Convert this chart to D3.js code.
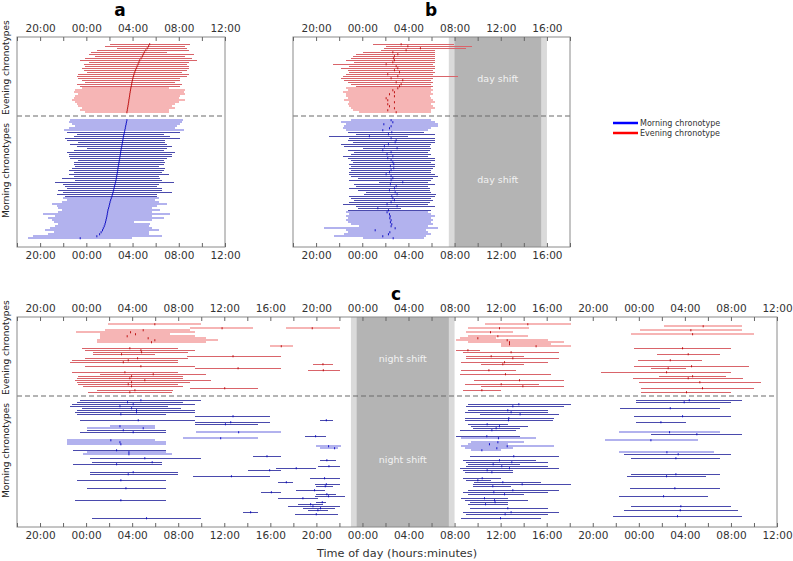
<!DOCTYPE html>
<html>
<head>
<meta charset="utf-8">
<script src="https://cdn.jsdelivr.net/npm/d3@7"></script>
<style>
  body{margin:0;background:#fff}
  svg{display:block}
  text{font-family:"DejaVu Sans",Verdana,sans-serif}
</style>
</head>
<body>
<svg id="chart" width="793" height="561"></svg>
<script>
// times are hours after midnight of the first day (26.5 = 02:30 next day)
// a, b: [sleep onset, wake, midsleep, pale]
const aEvening = [
  [26.07,33.01,29.48,0],[25.64,32.57,29.38,0],[26.65,32.72,29.27,0],[24.91,32.86,29.15,0],
  [24.42,30.98,29.02,0],[24.19,33.29,28.93,0],[24.77,32.57,28.85,0],[23.90,33.15,28.74,0],
  [23.47,33.58,28.62,0],[24.19,32.86,28.55,0],[23.76,32.72,28.48,0],[23.90,32.86,28.40,0],
  [23.61,32.86,28.33,0],[23.76,32.72,28.25,0],[24.05,32.28,28.19,0],[23.32,32.86,28.13,0],
  [23.18,32.72,28.08,0],[23.32,32.14,28.03,0],[23.61,32.14,27.99,0],[23.90,31.71,27.95,0],
  [23.18,32.28,27.92,0],[23.47,32.14,27.89,0],[23.61,31.13,27.85,1],[23.03,32.57,27.82,1],
  [22.89,32.43,27.79,1],[23.32,32.57,27.76,1],[23.03,32.14,27.74,1],[22.89,31.99,27.71,1],
  [22.75,32.57,27.68,1],[23.03,31.99,27.66,1],[23.18,31.71,27.63,1],[23.32,31.42,27.60,1],
  [23.61,31.71,27.57,1],[23.47,31.13,27.54,1],[23.90,31.13,27.51,1]
]
const aMorning = [
  [22.60,32.37,27.51,1],[22.46,32.28,27.47,1],[22.75,32.14,27.44,1],[23.03,31.85,27.40,1],
  [22.46,31.71,27.37,1],[22.11,32.43,27.33,1],[22.31,32.14,27.30,0],[23.18,30.69,27.26,0],
  [22.89,31.27,27.22,0],[22.17,32.14,27.19,0],[22.31,30.84,27.16,0],[23.32,30.84,27.13,0],
  [22.60,30.98,27.10,0],[23.18,31.42,27.07,0],[24.05,30.98,27.03,0],[22.89,30.69,27.00,0],
  [22.31,31.71,26.97,0],[22.46,31.42,26.95,0],[22.46,31.42,26.92,0],[22.60,30.98,26.89,0],
  [23.32,30.69,26.86,0],[22.89,30.84,26.83,0],[22.89,30.69,26.80,0],[23.03,30.26,26.77,0],
  [22.75,30.84,26.74,0],[22.46,30.69,26.72,0],[22.89,30.55,26.69,0],[22.46,31.13,26.66,0],
  [22.89,30.26,26.63,0],[21.88,30.40,26.60,0],[23.03,30.55,26.57,0],[21.30,31.56,26.53,0],
  [22.02,30.26,26.49,0],[22.17,30.12,26.44,0],[22.31,30.55,26.40,0],[21.59,30.55,26.36,0],
  [22.02,31.42,26.32,0],[21.45,30.12,26.27,0],[22.17,30.12,26.22,0],[22.02,30.26,26.16,1],
  [22.31,29.97,26.10,1],[21.88,30.26,26.05,1],[21.01,30.98,26.01,1],[21.45,30.12,25.97,1],
  [21.59,29.68,25.92,1],[21.88,30.40,25.87,1],[21.59,29.68,25.84,1],[20.29,31.27,25.81,1],
  [21.30,29.68,25.78,1],[20.72,30.69,25.74,1],[21.01,29.68,25.70,1],[21.16,28.09,25.66,1],
  [21.59,29.54,25.61,1],[21.30,29.39,25.55,1],[20.87,29.68,25.47,1],[20.43,30.26,25.40,1],
  [21.16,29.39,25.28,1],[20.72,29.39,25.15,1],[19.42,30.55,24.91,1],[18.99,27.95,23.47,1]
]
const bEvening = [
  [24.91,31.99,27.37,0],[26.07,33.53,27.95,0],[25.92,33.01,29.04,0],[25.64,30.26,27.80,0],
  [24.05,30.26,26.65,0],[23.47,30.26,27.08,0],[23.18,30.26,26.79,0],[23.03,30.26,26.70,0],
  [22.60,30.26,26.79,0],[23.32,30.26,26.65,0],[21.45,30.12,26.07,0],[22.89,30.26,26.94,0],
  [22.17,30.26,27.08,0],[22.75,30.12,26.79,0],[22.89,30.26,27.23,0],[22.60,30.12,26.21,0],
  [22.31,32.28,27.08,0],[22.17,30.12,26.50,0],[22.46,29.97,27.51,0],[22.75,30.12,26.94,0],
  [23.03,29.97,27.37,0],[23.47,30.12,27.23,0],[22.60,29.97,27.08,1],[22.75,30.12,26.65,1],
  [22.31,29.97,26.79,1],[22.60,30.12,26.36,1],[22.60,29.83,26.79,1],[22.75,29.97,26.07,1],
  [22.46,30.12,26.21,1],[22.89,30.26,26.79,1],[22.75,29.97,26.21,1],[22.89,30.12,26.36,1],
  [23.03,30.26,26.79,1],[23.18,29.97,26.21,1],[23.76,29.97,26.94,1]
]
const bMorning = [
  [23.03,29.97,26.50,1],[22.17,30.26,26.65,1],[22.60,30.55,25.87,1],[22.46,30.55,26.50,1],
  [22.31,29.97,26.36,1],[22.60,29.68,25.78,1],[22.75,29.39,26.56,0],[23.47,30.26,26.27,0],
  [21.16,27.95,24.62,0],[22.89,30.26,26.50,0],[22.75,30.26,26.94,0],[23.18,30.26,26.85,0],
  [22.17,29.97,26.27,0],[22.46,29.83,25.92,0],[24.05,29.97,27.02,0],[22.75,29.83,25.78,0],
  [23.32,29.68,26.50,0],[23.03,29.97,26.15,0],[22.31,29.68,26.65,0],[22.75,30.26,26.21,0],
  [23.03,30.26,26.50,0],[23.18,29.97,26.65,0],[22.89,30.26,26.73,0],[23.03,30.26,26.44,0],
  [22.89,30.12,26.73,0],[23.03,29.97,26.50,0],[22.89,29.97,26.36,0],[22.89,30.26,26.07,0],
  [23.03,30.55,26.50,0],[23.61,30.12,26.65,0],[22.89,29.97,26.50,0],[25.49,29.68,27.51,0],
  [23.32,30.26,26.44,0],[23.47,29.68,26.94,0],[22.89,29.83,26.79,0],[23.61,29.83,26.36,0],
  [24.34,29.97,26.85,0],[24.19,30.40,27.02,0],[22.89,30.26,26.56,0],[23.03,29.97,26.65,0],
  [23.32,30.12,26.79,0],[22.89,29.83,26.50,0],[22.31,29.68,26.15,0],[23.47,30.26,27.02,0],
  [23.61,27.37,25.35,0],[22.75,29.97,26.27,0],[22.60,29.68,26.15,1],[22.89,29.97,26.36,1],
  [22.60,30.26,26.42,1],[22.75,29.97,26.39,1],[22.60,30.12,26.50,1],[22.75,29.97,26.44,1],
  [23.03,30.12,26.56,1],[23.76,29.68,26.50,1],[20.72,30.55,26.85,1],[22.60,29.54,25.12,1],
  [22.75,29.68,26.39,1],[22.46,29.97,26.27,1],[21.59,29.54,25.78,1],[24.05,29.39,26.68,1]
]
// c: [row, sleep onset, wake, midsleep, pale]
const cEvening = [
  [0,25.90,33.96,29.97,1],[0,58.60,66.12,62.36,1],[1,74.15,81.00,77.59,1],
  [2,33.01,38.50,35.81,1],[2,41.39,46.01,43.64,1],[2,57.16,62.50,59.90,1],
  [3,25.64,33.01,28.96,1],[3,72.13,81.00,76.52,1],[4,23.12,33.44,27.86,1],[4,57.01,61.06,59.12,1],
  [5,25.20,31.27,28.29,1],[5,71.32,82.01,76.67,1],[6,25.20,33.44,27.57,1],[6,57.16,62.36,59.76,1],
  [7,25.20,34.45,29.39,1],[7,56.43,59.61,58.02,1],[8,24.91,35.46,29.97,1],[8,56.14,64.09,60.57,1],
  [9,24.91,34.45,29.68,1],[9,57.16,65.54,60.77,1],[10,60.05,64.38,60.77,1],[11,39.94,41.97,40.95,1],
  [11,60.05,66.12,63.08,1],[12,23.61,31.99,27.80,0],[12,71.61,79.99,75.80,0],
  [13,23.90,33.44,28.76,0],[13,56.14,58.17,57.16,0],[14,24.62,32.86,28.82,0],[14,56.72,65.10,60.91,0],
  [15,24.62,29.97,27.08,0],[15,73.57,79.06,76.29,0],[16,32.72,40.95,36.76,0],[16,57.01,62.07,59.18,0],
  [17,23.90,32.86,28.47,0],[17,57.01,65.10,61.06,0],[18,22.75,31.99,27.66,0],[18,71.90,77.53,74.73,0],
  [19,22.60,31.99,27.23,0],[19,56.58,64.09,60.34,0],[20,43.70,45.43,44.57,0],[20,58.31,62.07,60.19,0],
  [21,23.90,33.44,28.76,0],[21,71.61,81.58,76.58,0],[22,33.44,40.95,37.20,0],[22,73.05,76.09,74.55,0],
  [23,43.27,46.01,44.60,0],[23,56.58,61.35,58.98,0],[24,22.75,31.99,27.37,0],[24,68.72,79.99,74.41,0],
  [25,25.20,34.45,29.83,0],[25,56.43,64.38,60.42,0],[26,23.32,32.43,27.95,0],[26,73.77,79.56,76.67,0],
  [27,23.18,32.43,27.80,0],[27,71.46,81.09,76.29,0],[28,23.03,34.88,29.10,0],[28,57.73,65.54,61.64,0],
  [29,23.18,33.01,27.95,0],[29,72.04,82.59,77.30,0],[30,23.32,31.99,27.66,0],[30,56.87,63.37,60.05,0],
  [31,23.76,32.43,27.95,0],[31,58.31,65.54,61.93,0],[32,33.01,38.93,36.04,0],[32,72.19,82.01,77.53,0],
  [33,24.91,31.56,28.24,0],[33,56.72,60.05,58.37,0],[34,24.19,31.42,27.80,0],[34,72.19,79.99,76.14,0]
]
const cMorning = [
  [38,23.47,34.02,28.76,0],[38,71.75,81.00,76.38,0],[39,23.18,32.43,27.60,0],[39,71.75,79.99,75.94,0],
  [40,22.75,33.44,28.09,0],[40,57.16,66.12,61.58,0],[41,22.60,31.13,26.94,0],[41,57.01,65.54,61.06,0],
  [42,23.61,32.28,27.95,0],[42,70.39,79.06,74.73,0],[43,23.18,33.44,28.38,0],[43,57.16,64.09,60.62,0],
  [44,23.03,33.44,28.38,0],[44,56.87,64.09,60.91,0],[45,23.18,30.98,27.02,0],[45,58.25,65.10,61.69,0],
  [46,33.44,39.94,36.76,0],[46,71.61,79.99,75.80,0],[47,56.87,64.67,60.71,0],
  [48,23.47,33.44,28.53,0],[48,44.28,45.43,44.86,0],[48,56.87,64.53,60.68,0],
  [49,33.44,39.94,36.56,0],[49,71.75,76.09,73.92,0],[50,33.44,38.93,36.10,0],[50,57.16,60.62,58.83,0],
  [51,26.07,29.97,26.94,1],[51,57.45,62.36,59.90,0],[52,24.05,29.97,28.96,1],[52,57.59,61.64,59.61,0],
  [53,24.05,30.98,27.23,0],[53,56.43,61.35,59.24,0],[54,23.47,30.98,28.09,0],[54,33.58,40.95,37.25,1],
  [54,70.31,79.06,74.67,1],[55,73.05,81.00,77.04,0],[56,42.98,44.86,43.93,0],[56,56.14,61.64,58.80,0],
  [57,32.43,38.93,35.69,1],[57,56.58,63.08,59.81,1],[58,22.31,29.97,26.15,1],[58,69.06,77.10,73.05,1],
  [59,22.31,30.98,26.94,1],[59,57.45,62.07,59.76,1],[60,22.31,30.98,27.02,1],[60,57.16,60.62,59.03,1],
  [61,43.99,46.16,45.06,1],[61,56.58,64.67,60.57,1],[62,44.28,45.87,45.58,1],[62,56.87,61.06,59.67,1],
  [63,22.89,30.98,26.65,0],[63,57.45,60.05,58.37,1],[64,24.05,30.98,27.72,1],[64,70.31,78.54,74.44,1],
  [65,23.76,31.42,27.72,1],[65,70.74,79.99,75.42,0],[66,38.50,40.95,39.71,0],[66,57.30,65.10,61.14,0],
  [67,24.34,34.02,29.10,0],[67,71.32,79.06,75.22,0],[68,44.28,45.72,44.91,0],[68,56.72,63.08,59.90,0],
  [69,24.48,30.55,29.74,0],[69,57.01,64.09,60.97,0],[70,22.89,30.55,26.65,0],[70,57.16,61.64,59.35,0],
  [71,44.13,46.01,45.09,0],[71,57.01,64.09,60.10,0],[72,40.52,43.99,42.25,0],[72,56.43,65.10,60.77,0],
  [73,38.06,40.95,39.94,0],[73,56.72,61.06,58.83,0],[74,24.34,31.99,28.09,0],[74,56.87,61.06,59.24,0],
  [75,24.34,31.99,27.66,0],[75,71.32,79.06,75.22,0],[76,33.29,39.94,36.62,0],[76,70.97,77.82,74.41,0],
  [77,43.41,46.01,44.71,0],[77,56.72,60.05,58.40,0],[78,23.18,30.98,27.02,0],[78,57.01,59.18,58.02,0],
  [79,40.66,41.97,41.39,0],[79,57.73,63.52,60.19,0],[80,43.84,46.01,44.86,0],[80,57.59,66.12,61.87,0],
  [81,43.99,45.43,44.77,0],[81,57.59,60.91,59.32,0],[82,24.05,30.98,27.46,0],[82,71.23,79.06,75.13,0],
  [83,42.25,44.71,43.84,0],[83,57.16,65.10,61.06,0],[84,39.22,40.95,40.09,0],[84,56.72,64.09,59.41,0],
  [85,43.99,45.72,44.91,0],[85,57.16,62.07,60.34,0],[86,43.84,46.45,45.06,0],[86,70.31,78.05,74.15,0],
  [87,40.66,44.13,42.83,0],[87,56.58,60.62,58.60,0],[88,23.03,30.98,27.02,0],[88,56.87,62.36,59.47,0],
  [89,43.99,44.86,44.51,0],[89,57.30,60.62,59.52,0],[90,42.40,44.57,43.50,0],[90,57.16,60.62,58.69,0],
  [91,41.53,46.01,43.70,0],[91,71.32,79.99,75.65,0],[92,42.83,45.58,44.36,0],[92,57.30,64.09,60.62,0],
  [93,43.27,45.00,44.13,0],[93,70.74,80.57,75.60,0],[94,37.63,38.93,38.29,0],[94,56.72,65.10,60.91,0],
  [95,42.11,45.87,43.99,0],[95,57.01,64.09,60.39,0],[96,69.73,81.00,75.36,0],
  [97,24.48,33.96,29.25,0],[97,56.58,63.52,59.99,0]
]
const dayShiftOuter = [31.5, 40], dayShiftInner = [32, 39.5]
const nightShiftOuter = [47, 56], nightShiftInner = [47.5, 55.5]
const legendLabels = ['Morning chronotype', 'Evening chronotype']
const groupLabels = ['Evening chronotypes', 'Morning chronotypes']

const col = {
  evening: {dark:'#d9646a', light:'#f6b5b5', mark:'#b80000'},
  morning: {dark:'#4a4aad', light:'#b2b2ee', mark:'#0000c0'}
}
const svg = d3.select('#chart')

function fmt(h){ return String(((h % 24) + 24) % 24).padStart(2,'0') + ':00' }

function panel(o){
  const x = d3.scaleLinear().domain(o.domain).range([o.x0, o.x1])
  const y = d3.scaleLinear().domain([-3.5, 101.5]).range([o.top, o.bottom])
  const g = svg.append('g')

  if(o.shift){
    g.append('rect').attr('x', x(o.shift[0][0])).attr('width', x(o.shift[0][1]) - x(o.shift[0][0]))
      .attr('y', o.top).attr('height', o.bottom - o.top).attr('fill', '#dadada')
    g.append('rect').attr('x', x(o.shift[1][0])).attr('width', x(o.shift[1][1]) - x(o.shift[1][0]))
      .attr('y', o.top).attr('height', o.bottom - o.top).attr('fill', '#b4b4b4')
    const cx = x((o.shift[1][0] + o.shift[1][1]) / 2)
    ;[17, 67.5].forEach(r => g.append('text').attr('x', cx).attr('y', y(r) + 3.5)
      .attr('text-anchor', 'middle').attr('font-size', 9.5).attr('fill', '#f2f2f2').text(o.shiftLabel))
  }

  g.append('line').attr('x1', o.x0).attr('x2', o.x1).attr('y1', y(36)).attr('y2', y(36))
    .attr('stroke', '#6a6a6a').attr('stroke-width', 1.1).attr('stroke-dasharray', '5,3')

  // segments: {row, s, e, m, light, grp}; pale ones are 2px bands, others 1px lines
  const segs = o.segs
  const sorted = segs.slice().sort((a, b) => b.light - a.light)
  const ry = d => d.light ? Math.round(y(d.row)) : Math.round(y(d.row)) + 0.5
  g.selectAll('.seg').data(sorted).enter().append('line')
    .attr('x1', d => x(d.s)).attr('x2', d => x(d.e))
    .attr('y1', ry).attr('y2', ry)
    .attr('stroke', d => d.light ? col[d.grp].light : col[d.grp].dark)
    .attr('stroke-width', d => d.light ? 2 : 1)
    .attr('shape-rendering', 'crispEdges')
  g.selectAll('.mid').data(segs).enter().append('line')
    .attr('x1', d => x(d.m)).attr('x2', d => x(d.m))
    .attr('y1', d => Math.round(y(d.row)) - 0.8).attr('y2', d => Math.round(y(d.row)) + 1.3)
    .attr('stroke', d => col[d.grp].mark).attr('stroke-width', 0.9)

  g.append('rect').attr('x', o.x0).attr('y', o.top).attr('width', o.x1 - o.x0).attr('height', o.bottom - o.top)
    .attr('fill', 'none').attr('stroke', '#8a8a8a').attr('stroke-width', 1)

  const ticks = d3.range(Math.ceil(o.domain[0] / 2) * 2, o.domain[1] + 0.01, 2)
  const tf = d => d % 4 === 0 ? fmt(d) : ''
  const top = g.append('g').attr('transform', `translate(0,${o.top})`)
    .call(d3.axisTop(x).tickValues(ticks).tickFormat(tf).tickSize(-4).tickPadding(5))
  const bot = g.append('g').attr('transform', `translate(0,${o.bottom})`)
    .call(d3.axisBottom(x).tickValues(ticks).tickFormat(tf).tickSize(-4).tickPadding(5))
  ;[top, bot].forEach(a => {
    a.select('.domain').remove()
    a.selectAll('line').attr('stroke', '#666')
    a.selectAll('text').attr('font-size', 10.5).attr('fill', '#333').attr('font-family', '"DejaVu Sans",sans-serif')
  })

  if(o.ylabels){
    const dy = y(36)
    g.append('text').attr('transform', `translate(8.5,${dy - 1}) rotate(-90)`)
      .attr('text-anchor', 'start').attr('font-size', 9).attr('fill', '#222').text(groupLabels[0])
    g.append('text').attr('transform', `translate(8.5,${dy + 7}) rotate(-90)`)
      .attr('text-anchor', 'end').attr('font-size', 9).attr('fill', '#222').text(groupLabels[1])
  }

  svg.append('text').attr('x', o.titleX).attr('y', o.titleY).attr('text-anchor', 'middle')
    .attr('font-family', '"Liberation Sans",Arial,sans-serif').attr('font-weight', 'bold')
    .attr('font-size', 17).text(o.title)
}

function rowsAB(ev, mo){
  return ev.map((d, i) => ({row:i, s:d[0], e:d[1], m:d[2], light:d[3], grp:'evening'}))
    .concat(mo.map((d, i) => ({row:38 + i, s:d[0], e:d[1], m:d[2], light:d[3], grp:'morning'})))
}
function rowsC(ev, mo){
  return ev.map(d => ({row:d[0], s:d[1], e:d[2], m:d[3], light:d[4], grp:'evening'}))
    .concat(mo.map(d => ({row:d[0], s:d[1], e:d[2], m:d[3], light:d[4], grp:'morning'})))
}

panel({domain:[18, 36], x0:17, x1:225, top:37, bottom:247, segs:rowsAB(aEvening, aMorning),
  ylabels:true, title:'a', titleX:120, titleY:16})
panel({domain:[18, 42], x0:293, x1:570, top:37, bottom:247, segs:rowsAB(bEvening, bMorning),
  shift:[dayShiftOuter, dayShiftInner], shiftLabel:'day shift', title:'b', titleX:431, titleY:16})
panel({domain:[18, 84], x0:17, x1:777, top:317, bottom:527, segs:rowsC(cEvening, cMorning),
  shift:[nightShiftOuter, nightShiftInner], shiftLabel:'night shift', ylabels:true,
  title:'c', titleX:396, titleY:300})

svg.append('text').attr('x', 397).attr('y', 557).attr('text-anchor', 'middle')
  .attr('font-size', 11.3).attr('fill', '#333').text('Time of day (hours:minutes)')

// legend
const leg = svg.append('g').attr('transform', 'translate(613,123)')
;['#0000ff', '#ff0000'].forEach((c, i) => {
  leg.append('line').attr('x1', 0).attr('x2', 25).attr('y1', i * 10).attr('y2', i * 10)
    .attr('stroke', c).attr('stroke-width', 2.5)
  leg.append('text').attr('x', 27).attr('y', i * 10 + 3).attr('font-size', 8).attr('fill', '#333').text(legendLabels[i])
})
</script>
</body>
</html>
